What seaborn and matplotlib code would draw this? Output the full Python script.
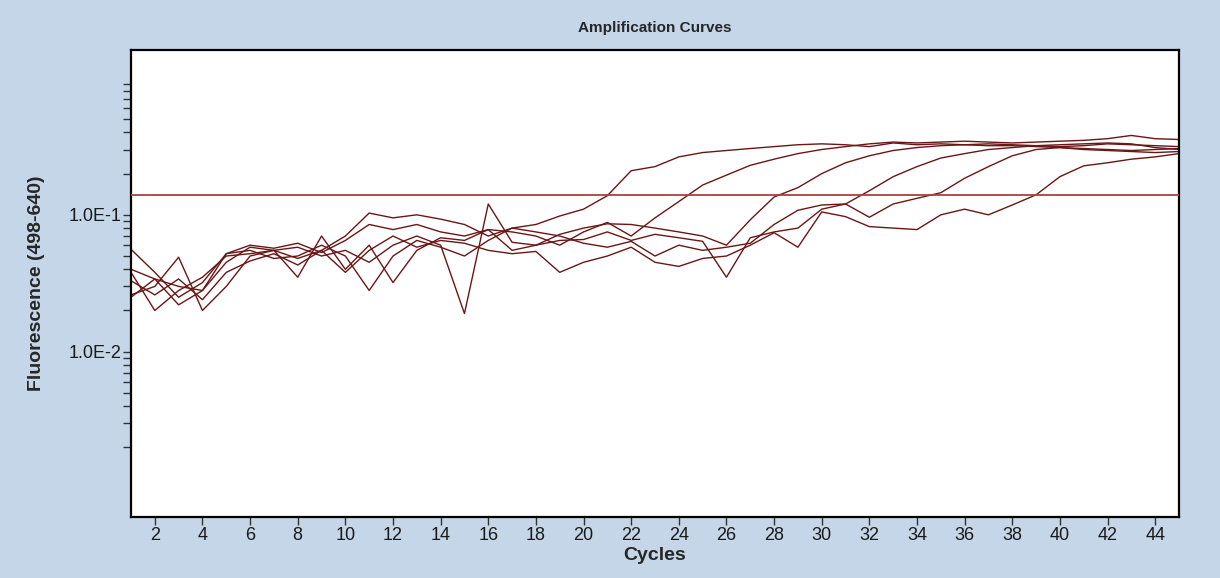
import numpy as np
import pandas as pd
import matplotlib
matplotlib.use("Agg")
import matplotlib.pyplot as plt
import seaborn as sns
from matplotlib.ticker import FixedLocator, NullFormatter

# Amplification data: fluorescence (498-640) per cycle for each well
cycles = list(range(1, 46))

well_a = [0.040, 0.034, 0.030, 0.028, 0.045, 0.058, 0.055, 0.048, 0.055, 0.070,
          0.103, 0.095, 0.100, 0.093, 0.085, 0.070, 0.080, 0.085, 0.098, 0.110,
          0.138, 0.210, 0.225, 0.265, 0.285, 0.295, 0.305, 0.315, 0.325, 0.330,
          0.325, 0.315, 0.335, 0.325, 0.330, 0.325, 0.320, 0.320, 0.315, 0.310,
          0.305, 0.300, 0.295, 0.300, 0.305]
well_b = [0.056, 0.038, 0.025, 0.032, 0.052, 0.060, 0.057, 0.062, 0.053, 0.065,
          0.085, 0.078, 0.085, 0.075, 0.070, 0.078, 0.075, 0.070, 0.060, 0.075,
          0.088, 0.070, 0.095, 0.125, 0.165, 0.195, 0.230, 0.255, 0.280, 0.300,
          0.315, 0.330, 0.340, 0.335, 0.340, 0.345, 0.340, 0.335, 0.340, 0.345,
          0.350, 0.360, 0.380, 0.360, 0.355]
well_c = [0.026, 0.030, 0.049, 0.020, 0.030, 0.050, 0.055, 0.058, 0.050, 0.055,
          0.045, 0.060, 0.070, 0.060, 0.019, 0.120, 0.063, 0.060, 0.072, 0.080,
          0.086, 0.085, 0.080, 0.075, 0.070, 0.060, 0.092, 0.135, 0.158, 0.200,
          0.240, 0.270, 0.295, 0.310, 0.320, 0.325, 0.330, 0.325, 0.320, 0.315,
          0.320, 0.330, 0.325, 0.320, 0.315]
well_d = [0.038, 0.020, 0.028, 0.035, 0.050, 0.052, 0.055, 0.035, 0.070, 0.040,
          0.060, 0.032, 0.055, 0.068, 0.065, 0.078, 0.055, 0.060, 0.065, 0.066,
          0.075, 0.065, 0.072, 0.068, 0.064, 0.035, 0.068, 0.075, 0.080, 0.110,
          0.120, 0.150, 0.190, 0.225, 0.260, 0.280, 0.300, 0.310, 0.320, 0.325,
          0.330, 0.335, 0.330, 0.310, 0.300]
well_e = [0.025, 0.034, 0.022, 0.028, 0.052, 0.055, 0.048, 0.050, 0.060, 0.050,
          0.028, 0.050, 0.065, 0.058, 0.050, 0.065, 0.080, 0.075, 0.070, 0.062,
          0.058, 0.064, 0.050, 0.060, 0.055, 0.058, 0.062, 0.085, 0.108, 0.118,
          0.120, 0.096, 0.120, 0.132, 0.145, 0.185, 0.225, 0.270, 0.300, 0.310,
          0.300, 0.295, 0.290, 0.285, 0.290]
well_f = [0.033, 0.026, 0.034, 0.024, 0.038, 0.046, 0.052, 0.043, 0.055, 0.038,
          0.055, 0.070, 0.058, 0.065, 0.062, 0.055, 0.052, 0.054, 0.038, 0.045,
          0.050, 0.058, 0.045, 0.042, 0.048, 0.050, 0.060, 0.074, 0.058, 0.105,
          0.097, 0.082, 0.080, 0.078, 0.100, 0.110, 0.100, 0.118, 0.140, 0.190,
          0.228, 0.240, 0.255, 0.265, 0.280]

wells = {"A": well_a, "B": well_b, "C": well_c, "D": well_d, "E": well_e, "F": well_f}
threshold = 0.14

x_ticks = list(range(2, 45, 2))
y_major = [0.01, 0.1]
y_major_labels = ["1.0E-2", "1.0E-1"]
y_minor = [0.002, 0.003, 0.004, 0.005, 0.006, 0.007, 0.008, 0.009,
           0.02, 0.03, 0.04, 0.05, 0.06, 0.07, 0.08, 0.09,
           0.2, 0.3, 0.4, 0.5, 0.6, 0.7, 0.8, 0.9]

frames = [pd.DataFrame({"Cycle": cycles, "Fluorescence": vals, "Well": name})
          for name, vals in wells.items()]
df = pd.concat(frames, ignore_index=True)

sns.set_style("white")
sans = ["Liberation Sans", "DejaVu Sans"]

bg = "#c4d6e7"
curve_color = "#6a1616"

fig = plt.figure(figsize=(12.2, 5.78), dpi=100, facecolor=bg)
ax = fig.add_axes([131 / 1220, 61 / 578, 1048 / 1220, 467 / 578])
ax.set_facecolor("white")

sns.lineplot(data=df, x="Cycle", y="Fluorescence", hue="Well",
             palette=[curve_color] * len(wells), legend=False,
             linewidth=1.0, ax=ax, estimator=None)
ax.axhline(threshold, color="#a5443e", linewidth=1.3, zorder=3)

ax.set_yscale("log")
ax.set_xlim(1, 45)
ax.set_ylim(6.2e-4, 1.6)

ax.xaxis.set_major_locator(FixedLocator(x_ticks))
ax.set_xticklabels([str(t) for t in x_ticks], family=sans, fontsize=13)
ax.yaxis.set_major_locator(FixedLocator(y_major))
ax.set_yticklabels(y_major_labels, family=sans, fontsize=13)
ax.yaxis.set_minor_locator(FixedLocator(y_minor))
ax.yaxis.set_minor_formatter(NullFormatter())

ax.tick_params(axis="both", which="both", direction="out", length=6, width=1,
               color="#333333", labelcolor="#1a1a1a", left=True, bottom=True,
               right=False, top=False, pad=1)

for side in ax.spines.values():
    side.set_color("black")
    side.set_linewidth(1.6)

ax.set_xlabel("Cycles", family=sans, fontweight="bold", fontsize=14, labelpad=2)
ax.set_ylabel("Fluorescence (498-640)", family=sans, fontweight="bold",
              fontsize=14, labelpad=17)
ax.set_title("Amplification Curves", family=sans,
             fontweight="bold", fontsize=11, pad=13)

fig.savefig("out.png", dpi=100, facecolor=bg)
